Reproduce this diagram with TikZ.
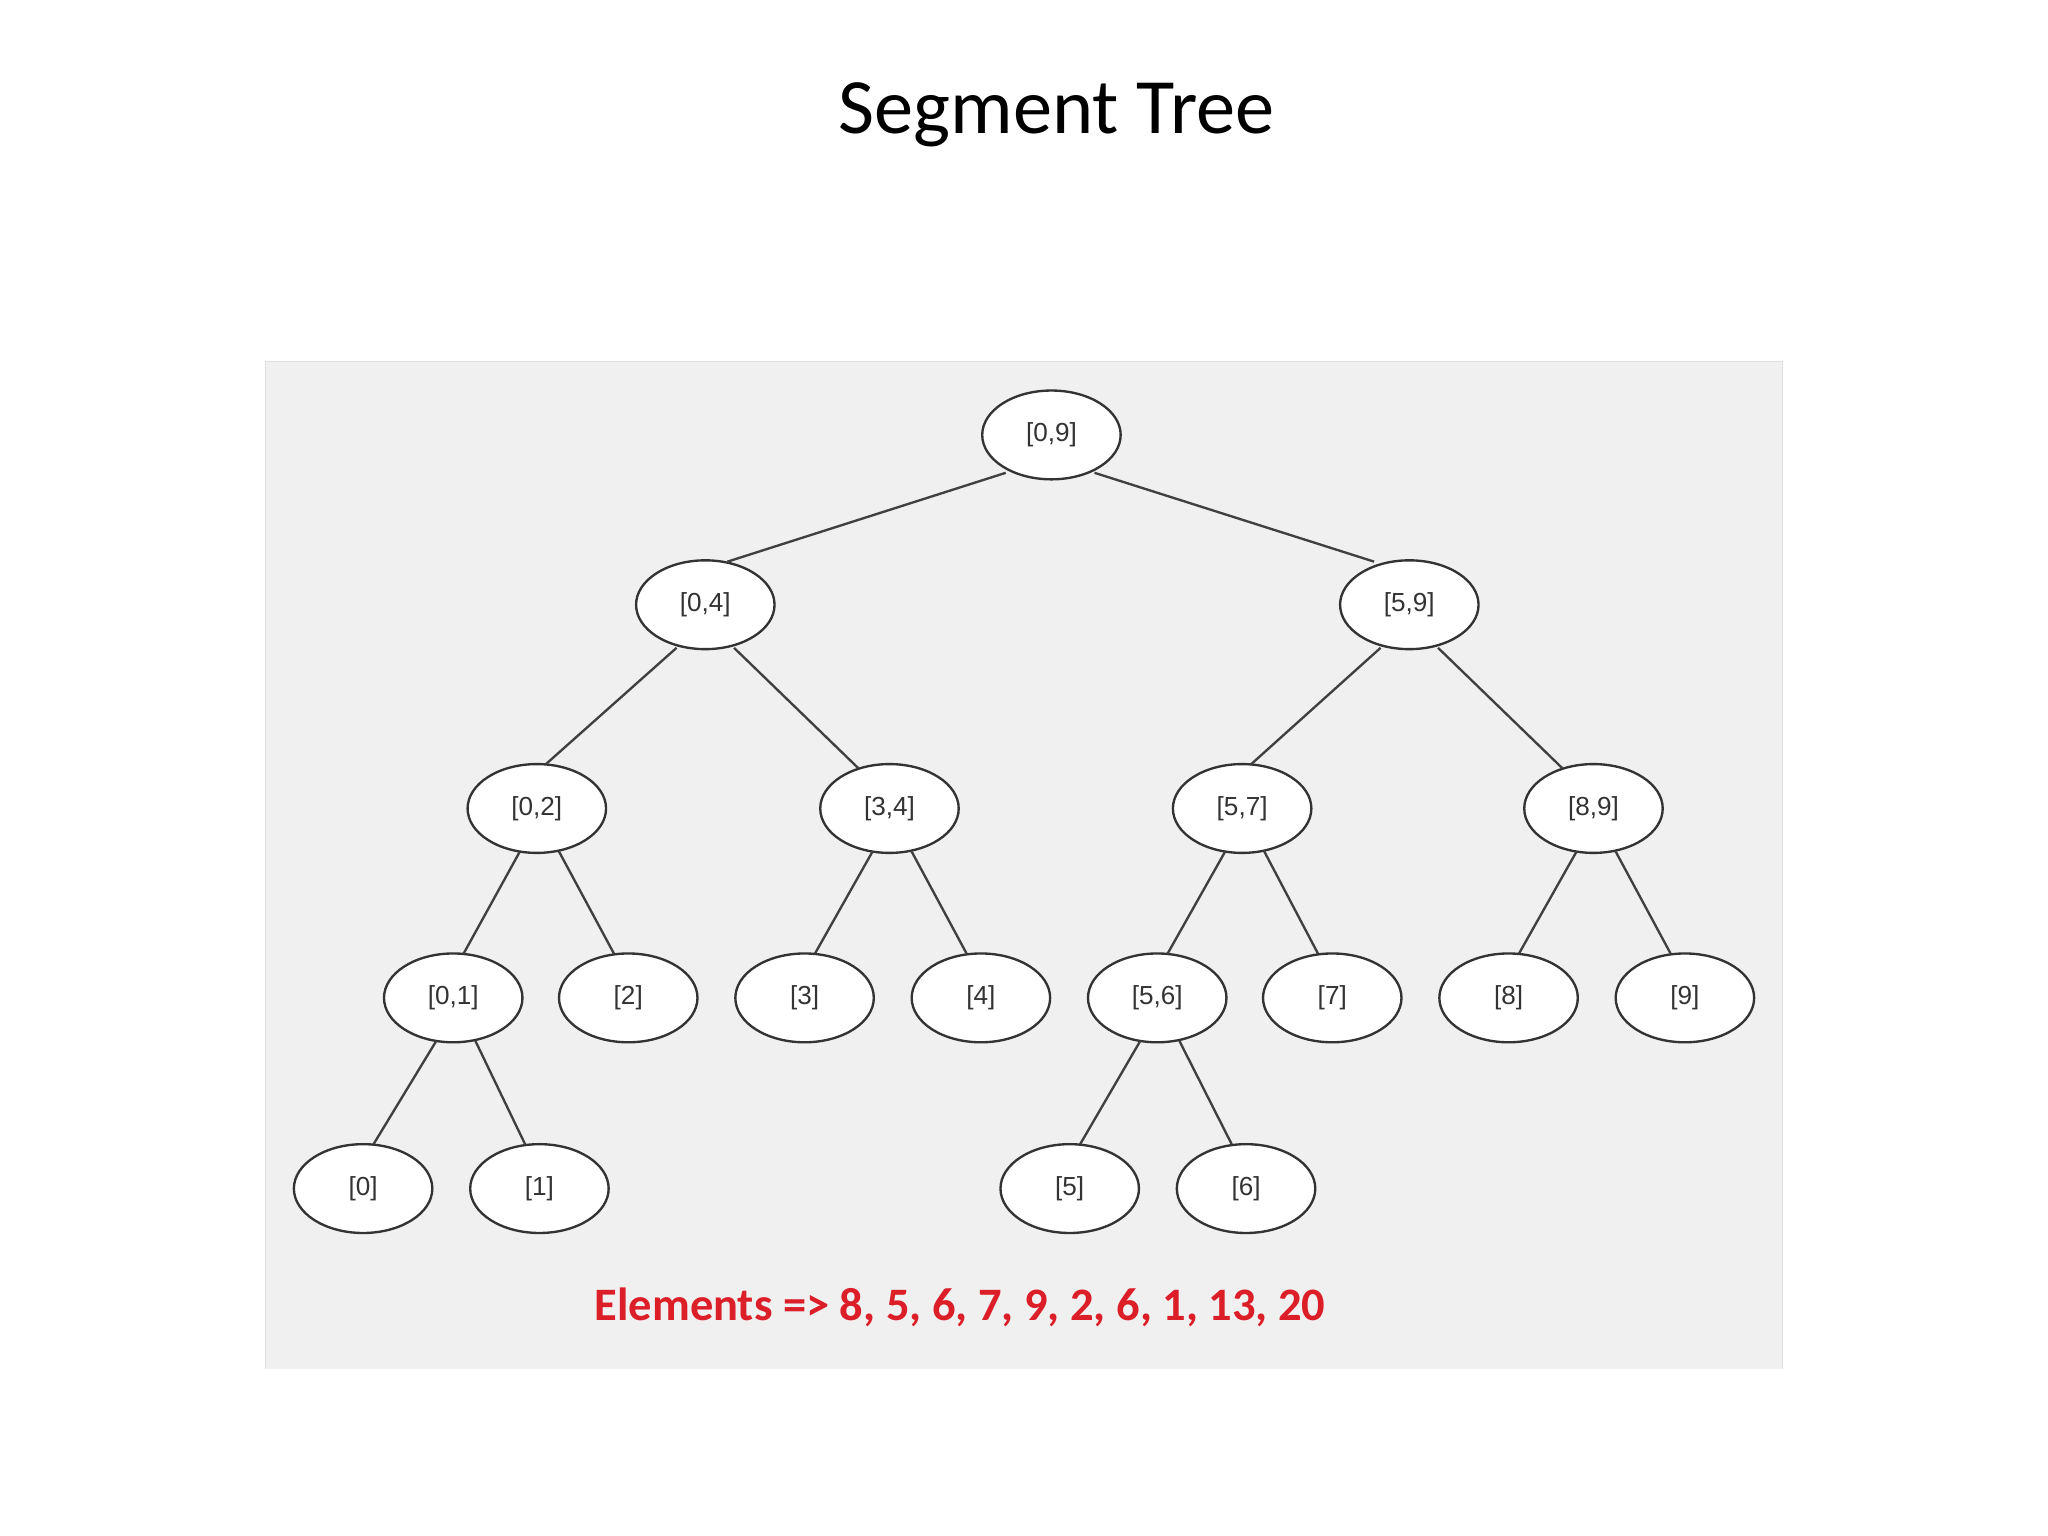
\documentclass[tikz,border=0pt]{standalone}
\usepackage{fontspec}
\setmainfont{Carlito}
\newfontfamily\nodefont{Liberation Sans}
\usetikzlibrary{shapes.geometric,calc}
\begin{document}
\begin{tikzpicture}[x=0.5pt,y=-0.5pt,
  seg/.style={ellipse,draw=black!80,line width=0.9pt,fill=white,minimum width=53pt,minimum height=34pt,inner sep=0pt,font=\nodefont\fontsize{10}{12}\selectfont,text=black!80},
  edge/.style={draw=black!75,line width=0.9pt}]
\useasboundingbox (0,0) rectangle (1568,1176);
\fill[white] (0,0) rectangle (1568,1176);
\fill[black!6] (203,277) rectangle (1365,1048);
\draw[black!12] (203,1048) -- (203,277) -- (1365,277) -- (1365,1048);
\node[font=\fontsize{30}{36}\selectfont] (title) at (809,88) {Segment Tree};
\node[seg] (n09) at (805,333) {[0,9]};
\node[seg] (n04) at (540,463) {[0,4]};
\node[seg] (n59) at (1079,463) {[5,9]};
\node[seg] (n02) at (411,619) {[0,2]};
\node[seg] (n34) at (681,619) {[3,4]};
\node[seg] (n57) at (951,619) {[5,7]};
\node[seg] (n89) at (1220,619) {[8,9]};
\node[seg] (n01) at (347,764) {[0,1]};
\node[seg] (n2) at (481,764) {[2]};
\node[seg] (n3) at (616,764) {[3]};
\node[seg] (n4) at (751,764) {[4]};
\node[seg] (n56) at (886,764) {[5,6]};
\node[seg] (n7) at (1020,764) {[7]};
\node[seg] (n8) at (1155,764) {[8]};
\node[seg] (n9) at (1290,764) {[9]};
\node[seg] (n0) at (278,910) {[0]};
\node[seg] (n1) at (413,910) {[1]};
\node[seg] (n5) at (819,910) {[5]};
\node[seg] (n6) at (954,910) {[6]};
\begin{scope}[on background layer/.try]
\draw[edge] ($(n09)+(-35,29)$) -- ($(n04)+(17,-33)$);
\draw[edge] ($(n09)+(33,29)$) -- ($(n59)+(-27,-33)$);
\foreach \a/\b in {n04/n02,n59/n57}
  \draw[edge] ($(\a)+(-22,33)$) -- ($(\b)+(7,-34)$);
\foreach \a/\b in {n04/n34,n59/n89}
  \draw[edge] ($(\a)+(22,33)$) -- ($(\b)+(-24,-31)$);
\foreach \a/\b in {n02/n01,n34/n3,n57/n56,n89/n8,n01/n0,n56/n5}
  \draw[edge] ($(\a)+(-13,33)$) -- ($(\b)+(8,-34)$);
\foreach \a/\b in {n02/n2,n34/n4,n57/n7,n89/n9,n01/n1,n56/n6}
  \draw[edge] ($(\a)+(17,33)$) -- ($(\b)+(-11,-34)$);
\end{scope}
\node[text={rgb,255:red,220;green,30;blue,40},font=\bfseries\fontsize{17.8}{21}\selectfont] (elem) at (735,1001) {Elements => 8, 5, 6, 7, 9, 2, 6, 1, 13, 20};
\end{tikzpicture}
\end{document}
